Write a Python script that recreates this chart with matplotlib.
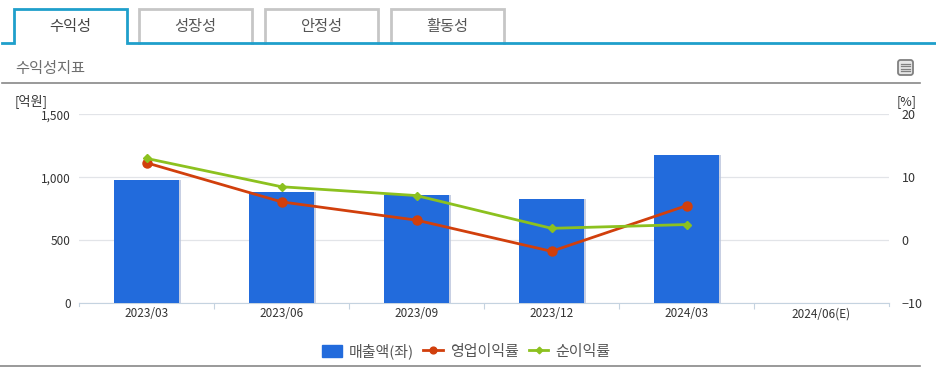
import matplotlib
matplotlib.use('Agg')
import matplotlib.pyplot as plt
import matplotlib.patheffects as pe
from matplotlib.patches import Rectangle, FancyBboxPatch
import numpy as np

plt.rcParams['font.family'] = ['Noto Sans CJK KR', 'DejaVu Sans']

W, H = 936, 389

# data
periods = ['2023/03', '2023/06', '2023/09', '2023/12', '2024/03', '2024/06(E)']
sales = [980, 886, 860, 828, 1177]
op_margin = [12.3, 6.1, 3.2, -1.75, 5.5]
net_margin = [13.0, 8.5, 7.1, 1.9, 2.5]
tabs = ['수익성', '성장성', '안정성', '활동성']
left_ticks = [0, 500, 1000, 1500]
left_labels = ['0', '500', '1,000', '1,500']
right_ticks = [-10, 0, 10, 20]

BLUE = '#226bdc'
RED = '#d13f0c'
GREEN = '#8cc11f'
TAB_BLUE = '#1f9fcb'
TEXT = '#333333'

fig = plt.figure(figsize=(W / 100, H / 100), dpi=100, facecolor='white')

# page furniture, in pixel coordinates
bg = fig.add_axes([0, 0, 1, 1])
bg.set_xlim(0, W)
bg.set_ylim(H, 0)
bg.axis('off')

tab_lefts = [14, 139, 265, 391]
for i, name in enumerate(tabs):
    x0 = tab_lefts[i]
    x1 = x0 + 113
    if i == 0:
        continue
    bg.plot([x0, x0, x1, x1], [43, 9, 9, 43], color='#c6c6c6', lw=2, solid_joinstyle='miter')
    bg.text((x0 + x1) / 2, 26, name, ha='center', va='center', fontsize=11, color='#555555')
bg.plot([2, 14, 14, 127, 127, W], [43, 43, 9, 9, 43, 43], color=TAB_BLUE, lw=2,
        solid_joinstyle='miter')
bg.text(70, 26, tabs[0], ha='center', va='center', fontsize=11, color='#444444')

bg.text(15, 68, '수익성지표', ha='left', va='center', fontsize=11, color='#6e6e6e')
bg.plot([2, 920], [83, 83], color='#888888', lw=1.2)
bg.plot([0, 920], [366, 366], color='#888888', lw=1.2)

# list icon at top right
bg.add_patch(FancyBboxPatch((898, 60), 15, 15, boxstyle='round,pad=0,rounding_size=2.5',
                            fc='#e6e6e6', ec='#808080', lw=1.3))
for y in [63.5, 66, 68.5, 71]:
    bg.plot([901, 910], [y, y], color='#808080', lw=0.9)

bg.text(15, 101, '[억원]', ha='left', va='center', fontsize=9.5, color=TEXT)
bg.text(907, 102, '[%]', ha='center', va='center', fontsize=9, color=TEXT)

# main chart
ax = fig.add_axes([79 / W, 1 - 303.3 / H, 810 / W, 189 / H])
ax.patch.set_alpha(0)
x = np.arange(len(sales))
bars = ax.bar(x, sales, width=0.48, color=BLUE, zorder=3)
for b in bars:
    b.set_path_effects([pe.SimplePatchShadow(offset=(1.5, 0), shadow_rgbFace='#b9c4dc', alpha=0.8),
                        pe.Normal()])
ax.set_xlim(-0.5, 5.5)
ax.set_ylim(0, 1500)
ax.set_yticks(left_ticks)
ax.set_yticklabels(left_labels)
ax.set_xticks(np.arange(len(periods)))
ax.set_xticklabels(periods)
ax.set_xticks(np.arange(0.5, 5.5, 1), minor=True)
ax.tick_params(axis='x', which='major', length=0, pad=3, labelsize=8.5, labelcolor=TEXT)
ax.tick_params(axis='x', which='minor', length=4, width=0.8, color='#c5d3e0')
ax.tick_params(axis='y', length=0, pad=6, labelsize=8.5, labelcolor=TEXT)
ax.grid(axis='y', color='#e2e4e8', lw=0.9)
ax.set_axisbelow(True)
for s in ['top', 'right', 'left']:
    ax.spines[s].set_visible(False)
ax.spines['bottom'].set_color('#c5d3e0')

ax2 = ax.twinx()
ax2.set_ylim(-10, 20)
ax2.set_yticks(right_ticks)
ax2.tick_params(axis='y', length=0, pad=9, labelsize=9, labelcolor=TEXT)
for s in ax2.spines.values():
    s.set_visible(False)
l1, = ax2.plot(x, op_margin, color=RED, lw=2, marker='o', ms=6.5, zorder=5)
l2, = ax2.plot(x, net_margin, color=GREEN, lw=2, marker='D', ms=4.5, zorder=6)

# short ticks at both ends of the axis
ax.plot([1, 1], [0, -0.014], transform=ax.transAxes, color='#c5d3e0', lw=0.8, clip_on=False)
ax.plot([0, 0], [0, -0.014], transform=ax.transAxes, color='#c5d3e0', lw=0.8, clip_on=False)

swatch = Rectangle((0, 0), 1, 1, fc=BLUE, ec=BLUE)
leg = fig.legend([swatch, l1, l2], ['매출액(좌)', '영업이익률', '순이익률'],
                 loc='center', bbox_to_anchor=(466 / W, 1 - 351 / H), ncol=3, frameon=False,
                 fontsize=10.8, handlelength=1.33, handleheight=0.9, handletextpad=0.45,
                 columnspacing=0.65, labelcolor='#555555', markerscale=0.75)

fig.savefig('out.png', dpi=100)
